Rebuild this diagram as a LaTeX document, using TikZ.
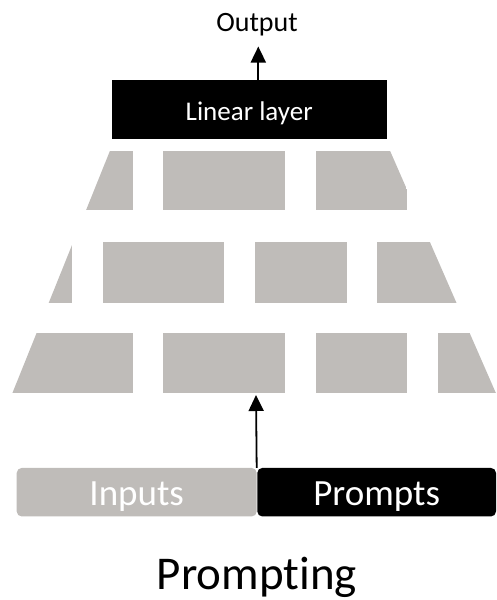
\documentclass[tikz,border=0pt]{standalone}
\usepackage{fontspec}
\setmainfont{Carlito}[RawFeature={-liga;-clig}]
\usetikzlibrary{arrows.meta}
\definecolor{blockgray}{RGB}{191,188,185}
\begin{document}
\begin{tikzpicture}[x=1pt,y=-1pt,
  arr/.style={-{Triangle[length=16pt,width=15pt]}, line width=1.8pt},
  darkbox/.style={fill=black, text=white, inner sep=0pt, outer sep=0pt},
  graybox/.style={fill=blockgray, text=white, inner sep=0pt, outer sep=0pt},
  blk/.style={fill=blockgray}]
  \useasboundingbox (0,0) rectangle (496,600);

  % layer blocks, cut by the slanted outline of the stack
  \begin{scope}
    \clip (110,150.7) -- (390,150.7) -- (496,393.3) -- (12.3,393.3) -- cycle;
    % top row
    \fill[blk] (0,150.7) rectangle (132.7,210);
    \fill[blk] (163.3,150.7) rectangle (285,210);
    \fill[blk] (316,150.7) rectangle (407.3,210);
    % middle row
    \fill[blk] (0,242.3) rectangle (72,303.3);
    \fill[blk] (102.7,242.3) rectangle (224.3,303.3);
    \fill[blk] (255,242.3) rectangle (346.7,303.3);
    \fill[blk] (377,242.3) rectangle (500,303.3);
    % bottom row
    \fill[blk] (0,333.3) rectangle (132.7,393.3);
    \fill[blk] (163.3,333.3) rectangle (285,393.3);
    \fill[blk] (316,333.3) rectangle (407.3,393.3);
    \fill[blk] (438,333.3) rectangle (500,393.3);
  \end{scope}
  \coordinate (stackin) at (256,395);

  % head
  \node[darkbox, minimum width=275pt, minimum height=59.3pt,
        text height=20.6pt, text depth=0pt, font=\fontsize{27}{32}\selectfont]
        (lin) at (249.2,109.7) {Linear layer};
  \node[anchor=base, inner sep=0pt, font=\fontsize{28}{33}\selectfont]
        (out) at (257,31.5) {Output};
  \coordinate (linout) at (258.3,80);
  \coordinate (outin) at (258.3,46.5);
  \draw[arr] (linout) -- (outin);

  % input sequence
  \node[graybox, rounded corners=5pt, minimum width=240pt, minimum height=48.5pt,
        text height=25.6pt, text depth=0pt, font=\fontsize{37}{44}\selectfont]
        (inp) at (136.7,492.2) {Inputs};
  \node[darkbox, rounded corners=5pt, minimum width=238.7pt, minimum height=48.5pt,
        text height=25.6pt, text depth=0pt, font=\fontsize{37}{44}\selectfont]
        (prm) at (376.65,492.2) {Prompts};
  \draw[arr] (inp.north east) -- (stackin);

  % caption
  \node[anchor=base, inner sep=0pt, font=\fontsize{47}{56}\selectfont]
        (cap) at (257,589) {Prompting};
\end{tikzpicture}
\end{document}
